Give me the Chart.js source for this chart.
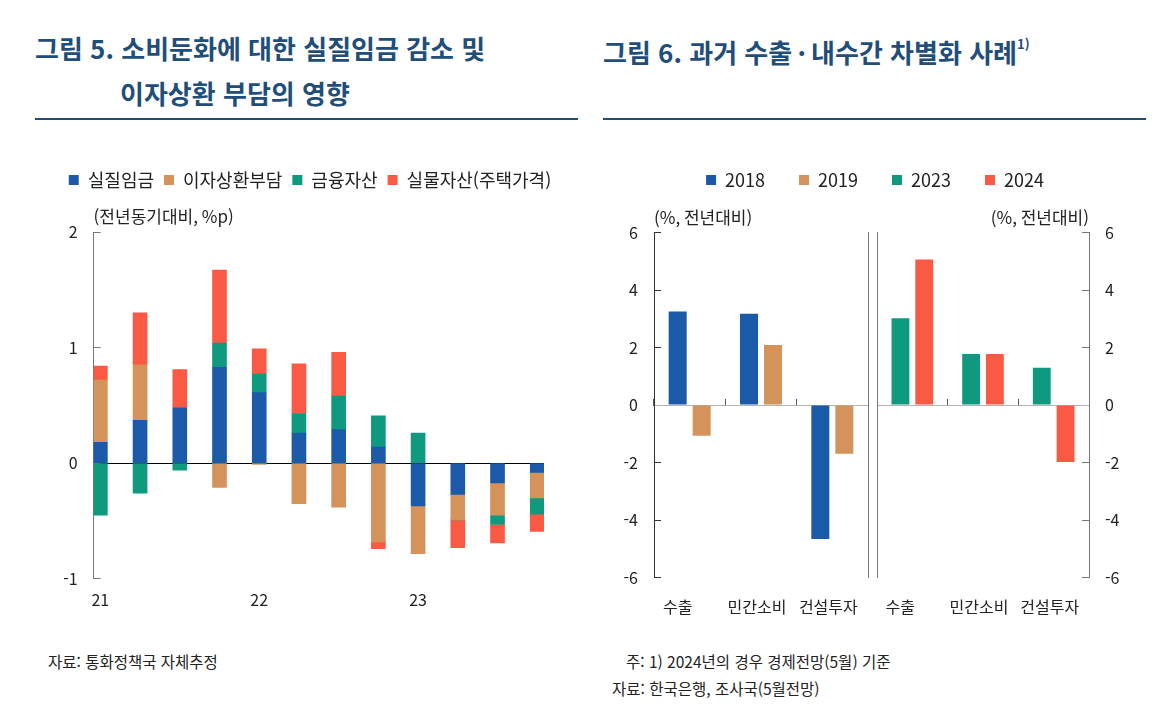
<!DOCTYPE html>
<html lang="ko">
<head>
<meta charset="utf-8">
<script src="https://cdn.jsdelivr.net/npm/chart.js@4.4.1/dist/chart.umd.min.js"></script>
<style>
    body { margin:0; width:1170px; height:713px; background:#fff; position:relative; overflow:hidden;
           font-family:'Noto Sans CJK KR', sans-serif; }
    .ttl { position:absolute; color:#1f4e7a; font-weight:700; font-size:26px; line-height:30px; white-space:nowrap; }
    .ttl sup { font-size:13px; position:relative; top:-4px; }
    .rule { position:absolute; top:118px; height:2px; background:#1f4e7a; }
    .note { position:absolute; font-size:15.5px; line-height:20px; color:#222; white-space:nowrap; }
    .box { position:absolute; }
</style>
</head>
<body>

<div class="ttl" style="left:35px; top:33px;">그림 5. 소비둔화에 대한 실질임금 감소 및</div>
<div class="ttl" style="left:120px; top:78px;">이자상환 부담의 영향</div>
<div class="ttl" style="left:603px; top:33px;">그림 6. 과거 수출&thinsp;·&thinsp;내수간 차별화 사례<sup>1)</sup></div>
<div class="rule" style="left:35px; width:543px;"></div>
<div class="rule" style="left:603px; width:543px;"></div>

<div class="box" style="left:30px; top:150px;"><canvas id="fig5" width="560" height="475"></canvas></div>
<div class="box" style="left:600px; top:140px;"><canvas id="fig6a" width="550" height="500"></canvas></div>
<div class="box" style="left:600px; top:140px;"><canvas id="fig6b" width="550" height="500"></canvas></div>

<div class="note" style="left:48px; top:651px;">자료: 통화정책국 자체추정</div>
<div class="note" style="left:626px; top:651px;">주: 1) 2024년의 경우 경제전망(5월) 기준</div>
<div class="note" style="left:612px; top:678px;">자료: 한국은행, 조사국(5월전망)</div>

<script>
// Data : 그림 5 //
var quarters = ['21.1Q','21.2Q','21.3Q','21.4Q','22.1Q','22.2Q','22.3Q','22.4Q','23.1Q','23.2Q','23.3Q','23.4Q'];
var wage     = [0.18, 0.37, 0.48, 0.83, 0.61, 0.26, 0.29, 0.14, -0.37, -0.27, -0.17, -0.08];
var interest = [0.54, 0.48, 0, -0.21, -0.01, -0.35, -0.38, -0.68, -0.41, -0.22, -0.28, -0.22];
var finance  = [-0.45, -0.26, -0.06, 0.21, 0.16, 0.17, 0.29, 0.27, 0.26, 0, -0.08, -0.14];
var housing  = [0.12, 0.45, 0.33, 0.63, 0.22, 0.43, 0.38, -0.06, 0, -0.24, -0.16, -0.15];
var names5   = ['실질임금', '이자상환부담', '금융자산', '실물자산(주택가격)'];
var ticks5   = [-1, 0, 1, 2];

// Data : 그림 6 //
var items6 = ['수출', '민간소비', '건설투자'];
var y2018 = [3.26, 3.18, -4.66];
var y2019 = [-1.07, 2.09, -1.69];
var y2023 = [3.02, 1.78, 1.30];
var y2024 = [5.07, 1.78, -1.98];
var years6 = ['2018', '2019', '2023', '2024'];
var ticks6 = [-6, -4, -2, 0, 2, 4, 6];

var colors = ['#1a5aa9', '#d4935a', '#0f9a7f', '#fa5a43'];

Chart.defaults.font.family = "'Noto Sans CJK KR', sans-serif";
Chart.defaults.font.size = 16;
Chart.defaults.color = '#222';

// 그림 5 : stacked bars //
var yearStarts = [];
quarters.forEach(function(q, i){ if (q.slice(-2) == '1Q') yearStarts.push(i); });

var series5 = [wage, interest, finance, housing];
var fig5 = new Chart(document.getElementById('fig5'), {
    type: 'bar',
    data: {
        datasets: series5.map(function(vals, k){
            return {
                label: names5[k],
                backgroundColor: colors[k],
                barThickness: 14,
                data: quarters.map(function(q, i){ return {x: i, y: vals[i]}; })
            };
        })
    },
    options: {
        responsive: false,
        animation: false,
        layout: { padding: { top: 11, right: 0, bottom: 3, left: 0 } },
        plugins: {
            legend: { labels: { boxWidth: 10, boxHeight: 10, padding: 10, font: { size: 18 } } },
            title: { display: true, text: '(전년동기대비, %p)', align: 'start', fullSize: false, weight: 500,
                     color: '#222', font: { size: 17, weight: 'normal' }, padding: { top: 7.8, bottom: 4.8 } },
            tooltip: { enabled: false }
        },
        scales: {
            x: {
                type: 'linear', min: -0.17, max: 11.17, stacked: true, offset: false,
                border: { display: false },
                grid: { display: false, drawTicks: false },
                ticks: { padding: 12, callback: function(v){ return quarters[v] ? quarters[v].slice(0, 2) : ''; } },
                afterBuildTicks: function(s){ s.ticks = yearStarts.map(function(v){ return {value: v}; }); }
            },
            y: {
                min: -1, max: 2, stacked: true,
                border: { color: '#777' },
                grid: { color: function(c){ return c.tick && c.tick.value === 0 ? '#000' : 'rgba(0,0,0,0)'; },
                        tickColor: '#777', tickLength: -7 },
                ticks: { padding: 23 },
                afterBuildTicks: function(s){ s.ticks = ticks5.map(function(v){ return {value: v}; }); },
                afterFit: function(s){ s.width = 63.6; }
            },
            yPad: {
                type: 'linear', position: 'right',
                border: { display: false },
                grid: { display: false, drawTicks: false },
                ticks: { display: false },
                afterFit: function(s){ s.width = 46; }
            }
        }
    }
});

// 그림 6 : two panels on overlapping canvases //
function panel(id, sets, side, topPad, showLegend) {
    var left = side == 'left';
    return new Chart(document.getElementById(id), {
        type: 'bar',
        data: {
            labels: items6,
            datasets: sets.map(function(s){
                return { label: s.label, data: s.data, backgroundColor: s.color,
                         categoryPercentage: 0.673, barPercentage: 0.75 };
            })
        },
        options: {
            responsive: false,
            animation: false,
            layout: { padding: { top: topPad, right: 0, bottom: 3.3, left: 0 } },
            plugins: {
                legend: {
                    display: showLegend,
                    labels: {
                        boxWidth: 10, boxHeight: 10, padding: 16, font: { size: 18 },
                        generateLabels: function(){
                            return years6.map(function(y, k){
                                return { text: k < years6.length - 1 ? y + '\u3000' : y,
                                         fillStyle: colors[k], strokeStyle: colors[k], lineWidth: 0,
                                         fontColor: '#222', datasetIndex: k };
                            });
                        }
                    }
                },
                title: { display: true, text: '(%, 전년대비)', align: left ? 'start' : 'end', fullSize: false, weight: 500,
                         color: '#222', font: { size: 17, weight: 'normal' }, padding: { top: 8.8, bottom: 4.5 } },
                tooltip: { enabled: false }
            },
            scales: {
                x: {
                    offset: true,
                    border: { display: false },
                    grid: { display: false, drawTicks: false },
                    ticks: { padding: 20, labelOffset: -4,
                             callback: function(v, i){ return i == 0 ? items6[i] + '\u3000' : items6[i]; } }
                },
                x0: {
                    type: 'category', position: { y: 0 }, offset: true,
                    border: { color: '#b3b3b3' },
                    grid: { offset: true, drawOnChartArea: false, drawTicks: true, tickLength: -7, color: '#555' },
                    ticks: { display: false }
                },
                y: {
                    min: -6, max: 6, position: side,
                    border: { color: left ? '#333' : '#777' },
                    grid: { drawOnChartArea: false, tickLength: -7, color: left ? '#333' : '#777' },
                    ticks: { padding: 23 },
                    afterBuildTicks: function(s){ s.ticks = ticks6.map(function(v){ return {value: v}; }); },
                    afterFit: function(s){ s.width = left ? 54 : 61; }
                },
                yEdge: {
                    type: 'linear', position: left ? 'right' : 'left',
                    border: { color: '#777' },
                    grid: { display: false, drawTicks: false },
                    ticks: { display: false },
                    afterFit: function(s){ s.width = left ? 282 : 277; }
                }
            }
        }
    });
}

var fig6a = panel('fig6a', [
    { label: years6[0], data: y2018, color: colors[0] },
    { label: years6[1], data: y2019, color: colors[1] }
], 'left', 15, true);

var fig6b = panel('fig6b', [
    { label: years6[2], data: y2023, color: colors[2] },
    { label: years6[3], data: y2024, color: colors[3] }
], 'right', 15 + fig6a.legend.height, false);
</script>
</body>
</html>
